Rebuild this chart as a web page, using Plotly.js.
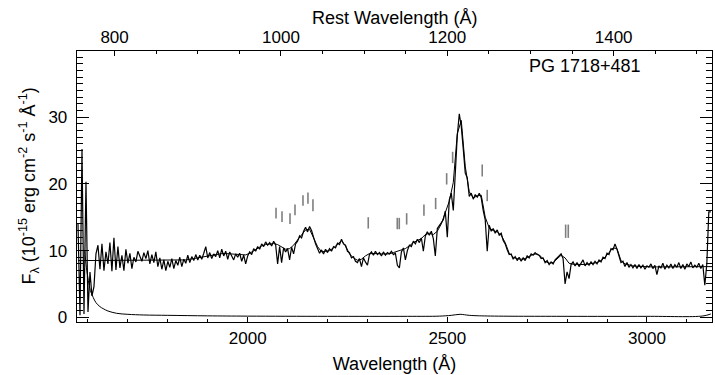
<!DOCTYPE html>
<html>
<head>
<meta charset="utf-8">
<script src="https://cdn.plot.ly/plotly-3.0.1.min.js"></script>
<style>html,body{margin:0;padding:0;background:#fff;}</style>
</head>
<body>
<div id="chart" style="width:715px;height:375px;"></div>
<script>
// ---- data ----
const redshiftFactor = 2.0833;           // 1 + z for PG 1718+481
const specStart = 1575, specStep = 5;     // observed wavelength grid of the spectrum (Å)
const specFlux = [
  14,0.3,25.2,0.5,20.3,0.8,6.8,3.2,4.6,9.5,10.8,7.2,11.0,7.0,9.8,8.0,11.2,6.9,11.9,7.1,
  10.6,7.4,9.3,7.0,10.2,8.1,9.6,7.3,9.0,8.3,9.9,9.2,8.4,9.7,8.8,10.0,8.0,9.4,8.2,9.8,
  7.6,8.9,7.2,8.6,7.0,8.4,7.5,8.8,7.3,8.5,7.8,9.0,7.6,8.7,8.1,9.3,8.2,9.1,8.5,9.4,
  8.6,9.3,8.7,9.6,10.6,8.9,9.7,8.8,9.5,9.1,10.0,8.9,10.2,9.2,9.9,8.7,9.8,9.2,8.6,9.5,
  9.0,9.6,8.4,9.3,8.0,9.2,9.8,9.4,10.3,9.9,10.6,10.2,11.0,10.6,11.3,10.8,11.2,10.7,11.4,10.9,
  8.0,10.6,8.2,10.4,9.8,10.3,8.6,10.5,9.5,11.0,11.4,12.2,11.9,12.9,13.5,12.8,13.6,13.0,11.9,11.0,
  10.3,9.6,10.1,9.5,10.2,9.7,10.3,9.9,10.6,10.4,11.1,10.9,11.7,11.0,10.8,9.9,9.7,8.9,9.1,8.4,
  8.2,8.8,7.6,8.9,8.3,7.8,9.4,9.8,9.3,9.9,9.4,9.7,9.2,9.8,9.3,9.7,9.5,9.9,9.4,9.6,
  7.8,7.4,9.8,10.4,8.6,10.0,10.8,10.6,11.4,11.0,11.7,11.2,11.9,9.9,12.2,12.8,12.3,12.9,11.8,9.2,
  13.3,13.8,14.3,14.6,15.9,12.0,17.6,18.6,16.0,22.5,27.2,30.5,28.6,25.2,21.6,20.9,18.1,18.6,17.7,18.4,
  18.0,18.6,17.9,16.0,14.6,9.9,13.8,12.9,13.3,12.6,13.1,12.3,12.6,11.5,11.0,10.1,9.4,9.5,8.7,9.1,
  8.5,9.0,8.4,8.9,8.5,9.2,8.9,9.5,9.3,9.7,9.4,9.3,8.8,8.9,8.2,8.5,7.9,8.3,8.0,8.6,
  8.9,9.2,9.5,8.8,5.0,6.8,5.8,7.9,8.3,7.7,8.2,7.6,8.1,8.6,7.7,8.2,7.8,8.3,7.9,8.4,
  8.0,8.6,8.3,9.0,8.8,9.6,9.4,10.3,10.1,11.0,10.2,9.0,8.2,8.4,7.6,8.2,7.5,7.9,7.4,7.9,
  7.3,7.9,7.4,7.8,7.2,7.7,7.5,8.0,7.3,7.8,6.4,7.7,7.4,8.1,7.2,7.8,7.4,8.0,7.3,7.9,
  7.5,8.2,7.3,7.9,7.2,8.0,7.6,8.3,7.4,7.8,7.5,8.1,7.3,7.9,4.8,8.0,15.8,15.8
];
const fitStart = 1575, fitStep = 10;      // model fit grid (Å)
const fitFlux = [
  8.5,8.5,8.5,8.5,8.5,8.5,8.5,8.5,8.5,8.5,
  8.5,8.5,8.5,8.5,8.5,8.5,8.5,8.5,8.5,8.5,
  8.5,8.5,8.5,8.5,8.5,8.5,8.5,8.6,8.7,8.8,
  8.9,9.0,9.2,9.3,9.4,9.5,9.55,9.55,9.5,9.45,
  9.35,9.3,9.35,9.6,10.0,10.4,10.7,10.9,11.0,11.05,
  10.9,10.5,10.2,10.3,10.8,11.6,12.4,13.1,13.2,12.0,
  10.6,9.8,9.9,10.0,10.4,11.0,11.5,10.7,9.5,8.9,
  8.55,8.7,9.2,9.55,9.6,9.55,9.5,9.5,9.5,9.7,
  9.9,10.1,10.3,10.7,11.2,11.5,11.8,12.4,12.6,12.4,
  12.9,14.0,15.6,17.4,20.2,27.5,29.5,22.6,18.8,17.9,
  18.2,18.3,15.0,13.4,13.0,12.8,12.3,11.2,9.6,9.0,
  8.8,8.7,8.8,9.1,9.45,9.5,9.1,8.4,8.1,8.2,
  8.7,9.3,8.9,8.1,7.95,7.9,7.85,7.9,8.0,8.05,
  8.2,8.5,9.0,9.7,10.4,10.3,8.5,8.0,7.8,7.7,
  7.65,7.6,7.6,7.6,7.55,7.55,7.55,7.55,7.55,7.55,
  7.55,7.55,7.55,7.55,7.55,7.55,7.55,7.6,7.6,7.6
];
const errWave = [1592,1596,1601,1606,1613,1620,1630,1638,1650,1672,1700,1740,1800,1900,2000,2200,2400,2480,2510,2532,2555,2600,2800,3000,3140,3160];
const errFlux = [10,7.5,5.5,4.0,3.0,2.2,1.6,1.3,0.95,0.6,0.45,0.35,0.3,0.22,0.18,0.15,0.15,0.18,0.3,0.45,0.3,0.2,0.15,0.15,0.2,0.5];
const markWave = [2071,2086,2106,2118.5,2138.5,2151,2163.5,2302,2374.7,2379.7,2398.2,2441.5,2470.8,2498.4,2513.4,2587.5,2600,2796.4,2803];
const markLow  = [14.8,14.3,14.0,15.3,16.7,17.0,15.9,13.3,13.2,13.2,13.9,15.2,16.2,19.9,23.1,21.1,17.4,11.9,11.9];
const markHigh = [16.4,15.9,15.6,16.9,18.3,18.7,17.7,15.0,14.9,14.9,15.6,16.9,17.9,21.6,24.8,22.9,19.1,13.9,13.9];
const xTickObs = [2000,2500,3000];
const xTickRest = [800,1000,1200,1400];
const yTicks = [0,10,20,30];
const objectName = 'PG 1718+481';
const xTitle = 'Wavelength (Å)';
const x2Title = 'Rest Wavelength (Å)';
const yTitle = 'F<sub>λ</sub> (10<sup>-15</sup> erg cm<sup>-2</sup> s<sup>-1</sup> Å<sup>-1</sup>)';

// ---- build traces ----
const mx = [], my = [];
markWave.forEach((w,i)=>{ mx.push(w,w,null); my.push(markLow[i],markHigh[i],null); });

const xRange = [1572.5, 3163];
const traces = [
  {x0:specStart, dx:specStep, y:specFlux, type:'scatter', mode:'lines',
   line:{color:'black', width:1.2}, hoverinfo:'skip'},
  {x0:fitStart, dx:fitStep, y:fitFlux, type:'scatter', mode:'lines',
   line:{color:'black', width:1}, hoverinfo:'skip'},
  {x:errWave, y:errFlux, type:'scatter', mode:'lines', line:{color:'black', width:1, shape:'spline'}, hoverinfo:'skip'},
  {x:mx, y:my, type:'scatter', mode:'lines', line:{color:'#7f7f7f', width:1.6}, connectgaps:false, hoverinfo:'skip'},
  {x:[xRange[0]/redshiftFactor], y:[null], xaxis:'x2', type:'scatter', mode:'lines', hoverinfo:'skip'}
];

const fontFam = '"Liberation Sans", Arial, Helvetica, sans-serif';
const layout = {
  width:715, height:375,
  margin:{l:77, r:3, t:51, b:53, pad:0},
  paper_bgcolor:'white', plot_bgcolor:'white',
  showlegend:false,
  font:{family:fontFam, size:17, color:'black'},
  xaxis:{range:xRange, tickvals:xTickObs, ticks:'inside', ticklen:5, tickwidth:1, tickcolor:'black',
    showline:true, linecolor:'black', linewidth:1.3, showgrid:false, zeroline:false,
    minor:{dtick:100, tick0:0, ticks:'inside', ticklen:3, tickcolor:'black', tickwidth:1, showgrid:false},
    tickfont:{size:17}, title:{text:xTitle, font:{size:18}, standoff:10}},
  xaxis2:{overlaying:'x', side:'top', range:[xRange[0]/redshiftFactor, xRange[1]/redshiftFactor],
    tickvals:xTickRest, ticks:'inside', ticklen:5, tickwidth:1, tickcolor:'black',
    showline:true, linecolor:'black', linewidth:1.3, showgrid:false, zeroline:false,
    minor:{dtick:50, tick0:0, ticks:'inside', ticklen:3, tickcolor:'black', tickwidth:1, showgrid:false},
    tickfont:{size:17}},
  yaxis:{range:[-0.7, 39.9], tickvals:yTicks, ticks:'inside', ticklen:12, tickwidth:1, tickcolor:'black',
    showline:true, linecolor:'black', linewidth:1.3, mirror:'ticks', showgrid:false, zeroline:false,
    minor:{dtick:1, tick0:0, ticks:'inside', ticklen:6, tickcolor:'black', tickwidth:1, showgrid:false},
    tickfont:{size:17}, ticklabelstandoff:5},
  annotations:[
    {text:objectName, xref:'paper', yref:'paper', x:0.8, y:0.945, xanchor:'center', yanchor:'middle',
     showarrow:false, font:{size:18, color:'black'}},
    {text:x2Title, xref:'paper', yref:'paper', x:0.5, y:1 + 33/270.7, xanchor:'center', yanchor:'middle',
     showarrow:false, font:{size:18, color:'black'}},
    {text:yTitle, xref:'paper', yref:'paper', x:-48/635, y:0.5, xanchor:'center', yanchor:'middle',
     textangle:-90, showarrow:false, font:{size:18, color:'black'}}
  ]
};
Plotly.newPlot('chart', traces, layout, {staticPlot:true, displayModeBar:false});
</script>
</body>
</html>
